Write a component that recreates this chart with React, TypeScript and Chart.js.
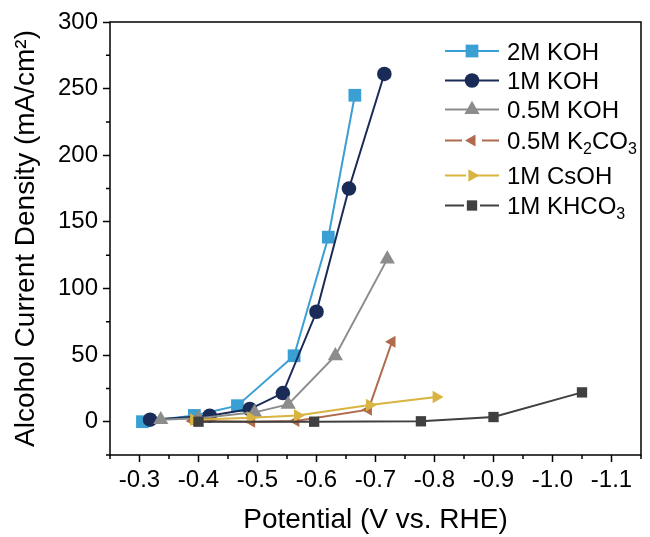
import React, { useEffect, useRef } from 'react';
import { Chart, registerables } from 'chart.js';

Chart.register(...registerables);

// ---------- data ----------
const seriesNames = ['2M KOH', '1M KOH', '0.5M KOH', '0.5M K₂CO₃', '1M CsOH', '1M KHCO₃'];

const potential2MKOH = [-0.305, -0.393, -0.466, -0.562, -0.62, -0.665];
const current2MKOH = [0, 4.7, 12, 49.5, 138.5, 245];

const potential1MKOH = [-0.318, -0.419, -0.487, -0.543, -0.6, -0.655, -0.715];
const current1MKOH = [1.5, 4.5, 9.5, 21.5, 82.5, 175, 261];

const potential05MKOH = [-0.336, -0.4, -0.495, -0.552, -0.632, -0.72];
const current05MKOH = [1.5, 2.5, 7, 13, 49.5, 122];

const potentialK2CO3 = [-0.39, -0.49, -0.565, -0.688, -0.728];
const currentK2CO3 = [0.5, 0, 0.5, 9, 60];

const potentialCsOH = [-0.392, -0.488, -0.568, -0.69, -0.803];
const currentCsOH = [1.5, 3, 4.7, 12.5, 18.5];

const potentialKHCO3 = [-0.4, -0.596, -0.777, -0.9, -1.05];
const currentKHCO3 = [0, 0, 0.3, 3.5, 22];

const xTickValues = [-0.3, -0.4, -0.5, -0.6, -0.7, -0.8, -0.9, -1.0, -1.1];
const yTickValues = [0, 50, 100, 150, 200, 250, 300];

const potentials = [potential2MKOH, potential1MKOH, potential05MKOH, potentialK2CO3, potentialCsOH, potentialKHCO3];
const currents = [current2MKOH, current1MKOH, current05MKOH, currentK2CO3, currentCsOH, currentKHCO3];

// ---------- styles ----------
const colors = ['#3a9fd3', '#1a2b57', '#8c8c8c', '#b06a4c', '#d9b440', '#404040'];
const markerStyles = ['rect', 'circle', 'triangle', 'triangle', 'triangle', 'rect'];
const markerRotations = [0, 0, 0, 270, 90, 0];
const markerRadii = [9, 7.3, 8.8, 7, 7.3, 7.3];
const legendGaps = [0, 0, 0, 10, 6, 8];

const FONT_FAMILY = '"Liberation Sans", Arial, sans-serif';
const TICK_FONT_SIZE = 24;
const TITLE_FONT_SIZE = 28;
const LEGEND_FONT_SIZE = 24;

function drawMarker(ctx: CanvasRenderingContext2D, style: string, r: number, rotDeg: number, x: number, y: number) {
  ctx.beginPath();
  if (style === 'rect') {
    const s = Math.SQRT1_2 * r;
    ctx.rect(x - s, y - s, 2 * s, 2 * s);
  } else if (style === 'circle') {
    ctx.arc(x, y, r, 0, Math.PI * 2);
  } else {
    let rad = (rotDeg * Math.PI) / 180;
    ctx.moveTo(x + Math.sin(rad) * r, y - Math.cos(rad) * r);
    rad += (2 * Math.PI) / 3;
    ctx.lineTo(x + Math.sin(rad) * r, y - Math.cos(rad) * r);
    rad += (2 * Math.PI) / 3;
    ctx.lineTo(x + Math.sin(rad) * r, y - Math.cos(rad) * r);
    ctx.closePath();
  }
  ctx.fill();
}

const SUBS: Record<string, string> = { '₀': '0', '₁': '1', '₂': '2', '₃': '3', '₄': '4', '₅': '5', '₆': '6', '₇': '7', '₈': '8', '₉': '9' };

function drawRichText(ctx: CanvasRenderingContext2D, text: string, x: number, baseline: number, size: number) {
  let cx = x;
  let buf = '';
  const flush = () => {
    if (!buf) return;
    ctx.font = `${size}px ${FONT_FAMILY}`;
    ctx.fillText(buf, cx, baseline);
    cx += ctx.measureText(buf).width;
    buf = '';
  };
  for (const ch of text) {
    if (SUBS[ch]) {
      flush();
      const sub = SUBS[ch];
      const subSize = Math.round(size * 0.68);
      ctx.font = `${subSize}px ${FONT_FAMILY}`;
      ctx.fillText(sub, cx, baseline + size * 0.22);
      cx += ctx.measureText(sub).width;
    } else {
      buf += ch;
    }
  }
  flush();
}

const framePlugin = {
  id: 'frameAndMinorTicks',
  afterDraw(chart: any) {
    const { ctx, chartArea } = chart;
    const { left, right, top, bottom } = chartArea;
    ctx.save();
    ctx.strokeStyle = '#000';
    ctx.lineWidth = 1.5;
    ctx.strokeRect(left, top, right - left, bottom - top);
    const xs = chart.scales.x;
    const ys = chart.scales.y;
    ctx.beginPath();
    for (let i = 5; i <= 23; i += 2) {
      const px = xs.getPixelForValue(-i * 0.05);
      ctx.moveTo(px, bottom);
      ctx.lineTo(px, bottom + 4);
    }
    for (let v = -25; v <= 300; v += 50) {
      const py = ys.getPixelForValue(v);
      ctx.moveTo(left, py);
      ctx.lineTo(left - 4, py);
    }
    ctx.stroke();
    ctx.restore();
  },
};

const legendPlugin = {
  id: 'lineMarkerLegend',
  afterDraw(chart: any) {
    const ctx: CanvasRenderingContext2D = chart.ctx;
    const lineX0 = 445;
    const lineX1 = 499;
    const markX = 472;
    const textX = 507;
    const rowY = [51, 80.5, 109.5, 140.5, 175.5, 205.5];
    ctx.save();
    seriesNames.forEach((name, i) => {
      const y = rowY[i];
      ctx.strokeStyle = colors[i];
      ctx.lineWidth = 2;
      const gap = legendGaps[i];
      ctx.beginPath();
      ctx.moveTo(lineX0, y);
      ctx.lineTo(markX - gap, y);
      ctx.moveTo(markX + (i === 4 ? 0 : gap), y);
      ctx.lineTo(lineX1, y);
      ctx.stroke();
      ctx.fillStyle = colors[i];
      drawMarker(ctx, markerStyles[i], markerRadii[i], markerRotations[i], markX, y);
      ctx.fillStyle = '#000';
      ctx.textBaseline = 'alphabetic';
      ctx.textAlign = 'left';
      drawRichText(ctx, name, textX, y + LEGEND_FONT_SIZE * 0.36, LEGEND_FONT_SIZE);
    });
    ctx.restore();
  },
};

export default function App() {
  const canvasRef = useRef<HTMLCanvasElement | null>(null);

  useEffect(() => {
    if (!canvasRef.current) return;
    const n = seriesNames.length;
    const datasets = seriesNames.map((name, i) => ({
      label: name,
      data: potentials[i].map((x, j) => ({ x, y: currents[i][j] })),
      borderColor: colors[i],
      backgroundColor: colors[i],
      pointBackgroundColor: colors[i],
      pointBorderColor: colors[i],
      pointBorderWidth: 0,
      borderWidth: 2,
      pointStyle: markerStyles[i],
      pointRotation: markerRotations[i],
      pointRadius: markerRadii[i],
      tension: 0,
      showLine: true,
      fill: false,
      order: n - i,
    }));

    const tickFont = { family: FONT_FAMILY, size: TICK_FONT_SIZE };
    const titleFont = { family: FONT_FAMILY, size: TITLE_FONT_SIZE };

    const chart = new Chart(canvasRef.current, {
      type: 'scatter',
      data: { datasets },
      options: {
        responsive: false,
        animation: false,
        layout: { padding: { top: 22, right: 4, left: 0, bottom: 0 } },
        plugins: {
          legend: { display: false },
          tooltip: { enabled: false },
        },
        scales: {
          x: {
            type: 'linear',
            min: -1.15,
            max: -0.25,
            reverse: true,
            afterFit: (s: any) => {
              s.height = 82;
              s.paddingLeft = 0;
              s.paddingRight = 0;
            },
            afterBuildTicks: (s: any) => {
              s.ticks = xTickValues.map((v) => ({ value: v }));
            },
            ticks: {
              callback: (v: any) => Number(v).toFixed(1),
              font: tickFont,
              color: '#000',
              padding: 4,
              maxRotation: 0,
              autoSkip: false,
            },
            grid: {
              display: true,
              drawOnChartArea: false,
              drawTicks: true,
              tickLength: 7,
              tickWidth: 1.5,
              tickColor: '#000',
            },
            border: { display: false },
            title: {
              display: true,
              text: 'Potential (V vs. RHE)',
              font: titleFont,
              color: '#000',
              padding: { top: 0, bottom: 0 },
            },
          },
          y: {
            type: 'linear',
            min: -25,
            max: 300,
            afterFit: (s: any) => {
              s.width = 110;
              s.paddingTop = 0;
              s.paddingBottom = 0;
            },
            afterBuildTicks: (s: any) => {
              s.ticks = yTickValues.map((v) => ({ value: v }));
            },
            ticks: {
              font: tickFont,
              color: '#000',
              padding: 5,
            },
            grid: {
              display: true,
              drawOnChartArea: false,
              drawTicks: true,
              tickLength: 7,
              tickWidth: 1.5,
              tickColor: '#000',
            },
            border: { display: false },
            title: {
              display: true,
              text: 'Alcohol Current Density (mA/cm²)',
              font: titleFont,
              color: '#000',
              padding: { top: 9, bottom: 0 },
            },
          },
        },
      },
      plugins: [framePlugin, legendPlugin],
    } as any);

    return () => {
      chart.destroy();
    };
  }, []);

  return (
    <div style={{ position: 'absolute', left: 0, top: 0, width: 650, height: 537, background: '#fff' }}>
      <canvas ref={canvasRef} width={650} height={537} style={{ width: 650, height: 537 }} />
    </div>
  );
}
